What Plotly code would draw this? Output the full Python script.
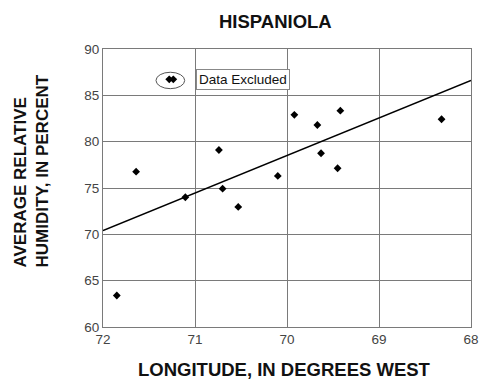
import plotly.graph_objects as go

# Included stations
lon = [71.85, 71.64, 71.105, 70.74, 70.70, 70.53, 70.10, 69.92, 69.67, 69.63, 69.45, 69.42, 68.32]
hum = [63.4, 76.76, 74.0, 79.1, 74.93, 72.96, 76.3, 82.9, 81.8, 78.75, 77.13, 83.34, 82.42]
# Excluded stations
excl_lon = [71.28, 71.236]
excl_hum = [86.73, 86.73]
# Regression line endpoints
fit_lon = [72, 68]
fit_hum = [70.4, 86.6]

x_ticks = [72, 71, 70, 69, 68]
y_ticks = [60, 65, 70, 75, 80, 85, 90]

FONT = "Liberation Sans, Arial, sans-serif"
GRID = "#7a7a7a"

fig = go.Figure()
fig.add_trace(go.Scatter(x=fit_lon, y=fit_hum, mode="lines",
                         line=dict(color="black", width=1.6), hoverinfo="skip"))
fig.add_trace(go.Scatter(x=lon, y=hum, mode="markers",
                         marker=dict(symbol="diamond", size=6, color="black")))
fig.add_trace(go.Scatter(x=excl_lon, y=excl_hum, mode="markers",
                         marker=dict(symbol="diamond", size=6, color="black")))

fig.add_shape(type="circle", xref="x", yref="y",
              x0=71.424, x1=71.112, y0=85.72, y1=87.49,
              line=dict(color="#555", width=1))

fig.add_annotation(x=70.99, y=86.68, xref="x", yref="y", text="Data Excluded",
                   showarrow=False, xanchor="left", yanchor="middle",
                   font=dict(family=FONT, size=13.5, color="#111"),
                   bordercolor="#888", borderwidth=1, borderpad=2, bgcolor="white")

fig.add_annotation(x=(275 - 103) / 368, y=1 + (49 - 22) / 278, xref="paper", yref="paper",
                   text="<b>HISPANIOLA</b>", showarrow=False,
                   xanchor="center", yanchor="middle",
                   font=dict(family=FONT, size=18.5, color="#111"))

fig.add_annotation(x=(284 - 103) / 368, y=-(369 - 327) / 278, xref="paper", yref="paper",
                   text="<b>LONGITUDE, IN DEGREES WEST</b>", showarrow=False,
                   xanchor="center", yanchor="middle",
                   font=dict(family=FONT, size=18.5, color="#111"))

fig.add_annotation(x=-(103 - 31) / 368, y=(327 - 270) / 278, xref="paper", yref="paper",
                   text="<b>AVERAGE RELATIVE<br>HUMIDITY, IN PERCENT</b>", showarrow=False,
                   textangle=-90, align="left", xanchor="center", yanchor="bottom",
                   font=dict(family=FONT, size=17, color="#111"))

axis_common = dict(showgrid=True, gridcolor=GRID, gridwidth=1,
                   showline=True, linecolor=GRID, linewidth=1, mirror=True,
                   zeroline=False, ticks="", automargin=False,
                   tickfont=dict(family=FONT, size=13.5, color="#444"))

fig.update_xaxes(range=[72, 68], tickvals=x_ticks, ticktext=[str(v) for v in x_ticks], **axis_common)
fig.update_yaxes(range=[60, 90], tickvals=y_ticks, ticktext=[str(v) for v in y_ticks], **axis_common)

fig.update_layout(width=481, height=383, autosize=False,
                  margin=dict(l=103, r=10, t=49, b=56),
                  paper_bgcolor="white", plot_bgcolor="white",
                  showlegend=False)

fig.write_html("out.html", config={"displayModeBar": False},
               post_script="document.body.style.margin='0';document.body.style.overflow='hidden';")
